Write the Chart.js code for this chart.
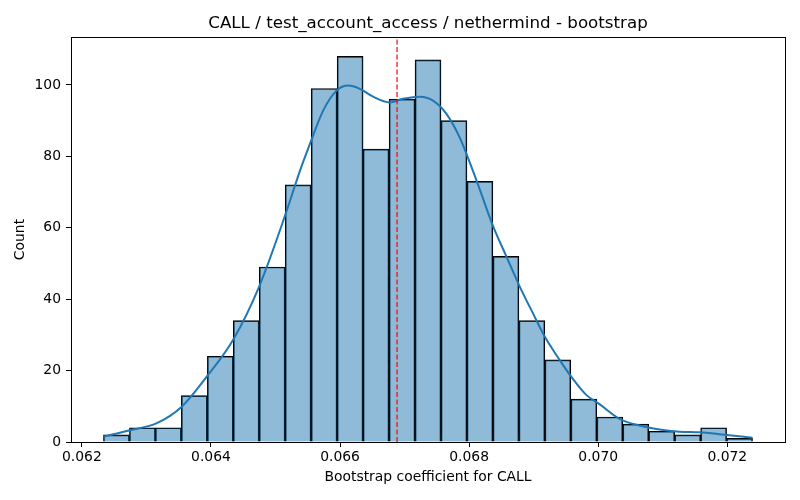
<!DOCTYPE html>
<html>
<head>
<meta charset="utf-8">
<script src="https://cdn.jsdelivr.net/npm/chart.js@4"></script>
<style>
  html, body { margin: 0; padding: 0; background: #fff; }
  #wrap { width: 800px; height: 500px; position: relative; }
</style>
</head>
<body>
<div id="wrap"><canvas id="histChart"></canvas></div>
<script>
// Histogram bins (centres) and counts
const binCenters = [
    0.062535, 0.062938, 0.063340, 0.063742, 0.064145,
    0.064547, 0.064949, 0.065351, 0.065754, 0.066156,
    0.066558, 0.066961, 0.067363, 0.067765, 0.068167,
    0.068570, 0.068972, 0.069374, 0.069777, 0.070179,
    0.070581, 0.070983, 0.071386, 0.071788, 0.072190
];
const binCounts = [
    2, 4, 4, 13, 24,
    34, 49, 72, 99, 108,
    82, 96, 107, 90, 73,
    52, 34, 23, 12, 7,
    5, 3, 2, 4, 1
];

// KDE curve (scaled to counts)
const kdeX = [
    0.062334, 0.062747, 0.063160, 0.063547, 0.063934, 0.064346, 0.064748,
    0.065146, 0.065378, 0.065532, 0.065738, 0.065946, 0.066125, 0.066306,
    0.066512, 0.066770, 0.066976, 0.067234, 0.067440, 0.067648, 0.067853,
    0.068059, 0.068163, 0.068369, 0.068576, 0.068782, 0.068987, 0.069169,
    0.069401, 0.069582, 0.069814, 0.070020, 0.070329, 0.070639, 0.070948,
    0.071258, 0.071567, 0.071877, 0.072391
];
const kdeY = [
    1.5, 3.3, 5.3, 9.9, 18.3, 28.7, 43.6,
    63.3, 75.9, 83.4, 92.8, 98.4, 99.8, 98.9,
    96.7, 95.1, 96.1, 96.7, 95.6, 91.9, 85.3,
    75.9, 70.8, 60.5, 52.0, 43.6, 36.1, 29.6,
    23.0, 18.3, 13.2, 10.6, 6.5, 4.6, 3.5,
    2.9, 2.7, 2.2, 1.2
];

// Mean marker
const meanValue = 0.066883;

// Axes
const xTicks = [0.062, 0.064, 0.066, 0.068, 0.070, 0.072];
const yTicks = [0, 20, 40, 60, 80, 100];
const xRange = [0.061831, 0.072894];
const yRange = [0, 113.4];

const titleText = 'CALL / test_account_access / nethermind - bootstrap';
const xLabel = 'Bootstrap coefficient for CALL';
const yLabel = 'Count';

const FONT = "'DejaVu Sans', sans-serif";
Chart.defaults.font.family = FONT;
Chart.defaults.color = '#000';

// draw the full axes box like matplotlib spines
const frameBox = {
    id: 'frameBox',
    afterDatasetsDraw(chart) {
        const { ctx, chartArea: a } = chart;
        ctx.save();
        ctx.strokeStyle = '#000';
        ctx.lineWidth = 1;
        ctx.strokeRect(Math.round(a.left) + 0.5, Math.round(a.top) + 0.5,
            Math.round(a.right - a.left), Math.round(a.bottom - a.top));
        ctx.restore();
    }
};

function createHistChart() {
    const ctx = document.getElementById('histChart');
    new Chart(ctx, {
        type: 'bar',
        data: {
            datasets: [
                {
                    type: 'line',
                    data: [{ x: meanValue, y: yRange[0] }, { x: meanValue, y: yRange[1] }],
                    borderColor: '#ff0000',
                    borderWidth: 1.2,
                    borderDash: [5, 2.5],
                    pointRadius: 0,
                    fill: false,
                    order: 1
                },
                {
                    type: 'line',
                    data: kdeX.map((x, i) => ({ x: x, y: kdeY[i] })),
                    borderColor: '#1f77b4',
                    borderWidth: 2,
                    pointRadius: 0,
                    cubicInterpolationMode: 'monotone',
                    fill: false,
                    order: 2
                },
                {
                    type: 'bar',
                    data: binCenters.map((x, i) => ({ x: x, y: binCounts[i] })),
                    backgroundColor: 'rgba(31, 119, 180, 0.5)',
                    borderColor: '#000',
                    borderWidth: 1,
                    barPercentage: 1,
                    categoryPercentage: 1,
                    order: 3
                }
            ]
        },
        options: {
            responsive: true,
            maintainAspectRatio: false,
            animation: false,
            events: [],
            layout: { padding: { left: 0, right: 15, top: 0, bottom: 0 } },
            plugins: {
                legend: { display: false },
                tooltip: { enabled: false },
                title: {
                    display: true,
                    text: titleText,
                    fullSize: false,
                    font: { size: 16.7, weight: 'normal' },
                    color: '#000',
                    padding: { top: 14, bottom: 3 }
                }
            },
            scales: {
                x: {
                    type: 'linear',
                    min: xRange[0],
                    max: xRange[1],
                    offset: false,
                    afterBuildTicks: s => { s.ticks = xTicks.map(v => ({ value: v })); },
                    afterFit: s => { s.height = 58; },
                    ticks: {
                        font: { size: 13.9 },
                        padding: 2,
                        maxRotation: 0,
                        callback: v => v.toFixed(3)
                    },
                    grid: {
                        display: true,
                        offset: false,
                        drawOnChartArea: false,
                        drawTicks: true,
                        tickLength: 5,
                        tickWidth: 1,
                        tickColor: '#000'
                    },
                    border: { display: false },
                    title: {
                        display: true,
                        text: xLabel,
                        font: { size: 13.9 },
                        padding: { top: 0, bottom: 14.5 }
                    }
                },
                y: {
                    min: yRange[0],
                    max: yRange[1],
                    afterBuildTicks: s => { s.ticks = yTicks.map(v => ({ value: v })); },
                    afterFit: s => { s.width = 71; },
                    ticks: {
                        font: { size: 13.9 },
                        padding: 5
                    },
                    grid: {
                        display: true,
                        drawOnChartArea: false,
                        drawTicks: true,
                        tickLength: 5,
                        tickWidth: 1,
                        tickColor: '#000'
                    },
                    border: { display: false },
                    title: {
                        display: true,
                        text: yLabel,
                        font: { size: 13.9 },
                        padding: { top: 12.5, bottom: 0 }
                    }
                }
            }
        },
        plugins: [frameBox]
    });
}

document.addEventListener('DOMContentLoaded', createHistChart);
</script>
</body>
</html>
